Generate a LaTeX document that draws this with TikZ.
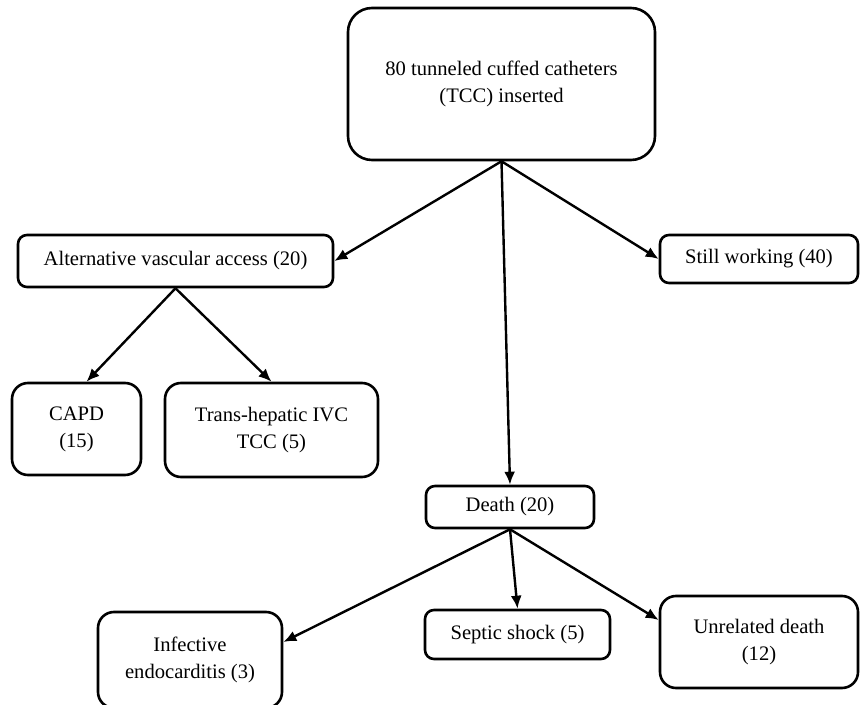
\documentclass[tikz,border=0pt]{standalone}
\usepackage{fontspec}
\setmainfont{Liberation Serif}
\usetikzlibrary{arrows.meta}

\begin{document}
\begin{tikzpicture}[x=0.5pt,y=-0.5pt,
   font=\fontsize{10.3}{13.5}\selectfont,
   box/.style={draw,line width=1.3pt,rounded corners=4.5pt,align=center,
              inner sep=0pt,fill=white},
   bigbox/.style={box,rounded corners=8pt},
   ln/.style={-{Latex[length=6.5pt,width=5.5pt]},line width=1.2pt},
]
\useasboundingbox (0,0) rectangle (862,705);

% ----- top: all catheters
\node[bigbox,rounded corners=12pt,minimum width=153.5pt,minimum height=76pt]
   (tcc) at (501.5,84) {80 tunneled cuffed catheters\\(TCC) inserted};

% ----- middle row
\node[box,minimum width=157.5pt,minimum height=26pt] (alt) at (175.5,261)
   {Alternative vascular access (20)};
\node[box,minimum width=99pt,minimum height=24pt] (still) at (759,259)
   {Still working (40)};
\node[bigbox,minimum width=64.5pt,minimum height=46pt] (capd) at (76.5,429)
   {CAPD\\(15)};
\node[bigbox,minimum width=106.5pt,minimum height=47pt] (ivc) at (271.5,430)
   {Trans-hepatic IVC\\TCC (5)};
\node[box,minimum width=84pt,minimum height=21pt] (death) at (510,507)
   {Death (20)};

% ----- bottom: causes of death
\node[bigbox,minimum width=92pt,minimum height=48pt] (endo) at (190,660)
   {Infective\\endocarditis (3)};
\node[box,minimum width=92.5pt,minimum height=24.5pt] (shock) at (517.5,634.5)
   {Septic shock (5)};
\node[bigbox,minimum width=99pt,minimum height=46pt] (unrel) at (759,642)
   {Unrelated death\\(12)};

% wires
\draw[ln] (tcc.south) -- (alt.east);
\draw[ln] (tcc.south) -- (still.west);
\draw[ln] (tcc.south) -- (death.north);
\draw[ln] (alt.south) -- ([xshift=5pt]capd.north);
\draw[ln] (alt.south) -- (ivc.north);
\draw[ln] (death.south) -- ([yshift=9pt]endo.east);
\draw[ln] (death.south) -- (shock.north);
\draw[ln] (death.south) -- ([yshift=11pt]unrel.west);
\end{tikzpicture}
\end{document}
